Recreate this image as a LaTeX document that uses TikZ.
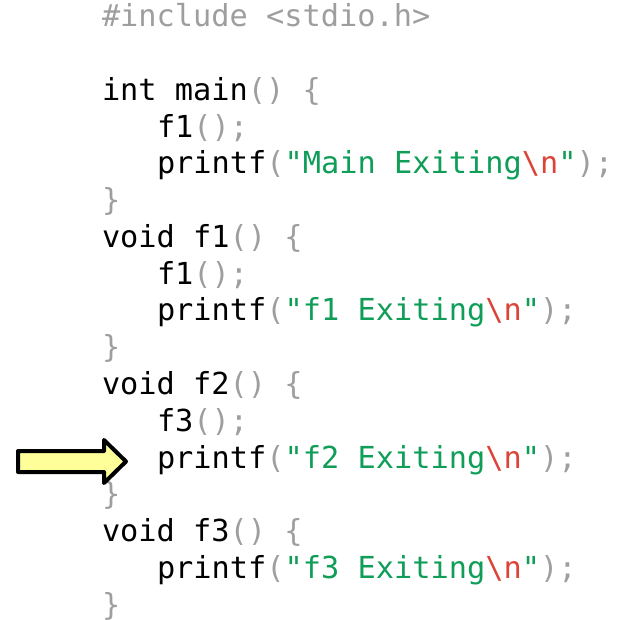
\documentclass[tikz,border=0pt]{standalone}
\usepackage{fontspec}
\setmonofont{DejaVu Sans Mono}
\definecolor{cpunct}{HTML}{9E9E9E}
\definecolor{cstring}{HTML}{0F9D58}
\definecolor{cescape}{HTML}{DB4437}
\definecolor{cpointer}{HTML}{FFFF99}
\newcommand{\cpun}[1]{\textcolor{cpunct}{#1}}
\newcommand{\cstr}[1]{\textcolor{cstring}{#1}}
\newcommand{\cesc}[1]{\textcolor{cescape}{#1}}
\newcommand{\nl}{\cesc{\textbackslash n}}
\begin{document}
\begin{tikzpicture}[x=1pt,y=-1pt,
  codeline/.style={anchor=base west,inner sep=0pt,outer sep=0pt,
    font=\ttfamily\fontsize{30.3}{36}\selectfont,text=black},
  pointer/.style={draw=black,fill=cpointer,line width=4pt,line join=round}]
\useasboundingbox (0,0) rectangle (624,620);
% left margin of the code and one indent step (3 characters)
\def\xa{102}
\def\xb{157}
\node[codeline] (l0)  at (\xa, 27.0)  {\cpun{\#include <stdio.h>}};
\node[codeline] (l2)  at (\xa, 100.5) {int main\cpun{() \{}};
\node[codeline] (l3)  at (\xb, 137.3) {f1\cpun{();}};
\node[codeline] (l4)  at (\xb, 174.0) {printf\cpun{(}\cstr{"Main Exiting}\nl\cstr{"}\cpun{);}};
\node[codeline] (l5)  at (\xa, 210.8) {\cpun{\}}};
\node[codeline] (l6)  at (\xa, 247.5) {void f1\cpun{() \{}};
\node[codeline] (l7)  at (\xb, 284.3) {f1\cpun{();}};
\node[codeline] (l8)  at (\xb, 321.0) {printf\cpun{(}\cstr{"f1 Exiting}\nl\cstr{"}\cpun{);}};
\node[codeline] (l9)  at (\xa, 357.8) {\cpun{\}}};
\node[codeline] (l10) at (\xa, 394.5) {void f2\cpun{() \{}};
\node[codeline] (l11) at (\xb, 431.3) {f3\cpun{();}};
\node[codeline] (l12) at (\xb, 468.0) {printf\cpun{(}\cstr{"f2 Exiting}\nl\cstr{"}\cpun{);}};
\node[codeline] (l13) at (\xa, 504.8) {\cpun{\}}};
\node[codeline] (l14) at (\xa, 541.5) {void f3\cpun{() \{}};
\node[codeline] (l15) at (\xb, 578.3) {printf\cpun{(}\cstr{"f3 Exiting}\nl\cstr{"}\cpun{);}};
\node[codeline] (l16) at (\xa, 615.0) {\cpun{\}}};
% current-line pointer
\draw[pointer] (18,451) -- (104,451) -- (104,440) -- (126,461.5)
  -- (104,483) -- (104,472) -- (18,472) -- cycle;
\end{tikzpicture}
\end{document}
